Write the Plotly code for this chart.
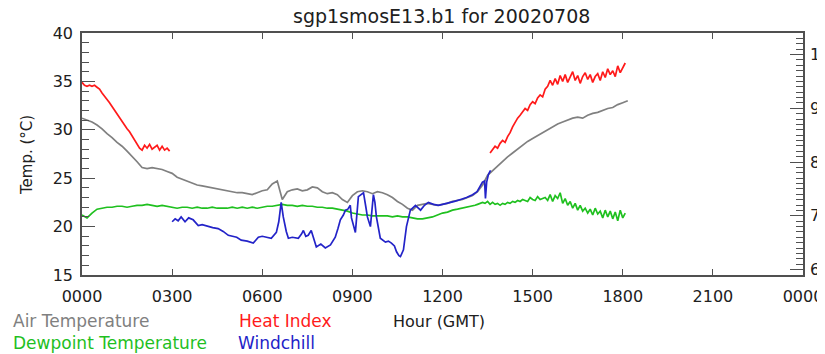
import plotly.graph_objects as go

# ---------------- data ----------------
chart_title = "sgp1smosE13.b1 for 20020708"
x_title = "Hour (GMT)"
y_title = "Temp. (°C)"
x_tick_vals = [0, 3, 6, 9, 12, 15, 18, 21, 24]
x_tick_text = ["0000", "0300", "0600", "0900", "1200", "1500", "1800", "2100", "0000"]
y_tick_vals = [15, 20, 25, 30, 35, 40]
f_tick_vals = [60, 70, 80, 90, 100]

# Air temperature (°C), every 10 minutes from 0000
air_temp = [
    31.2, 31.0, 30.8, 30.5, 30.1, 29.6,
    29.2, 28.7, 28.3, 27.8, 27.3, 26.7,
    26.1, 26.0, 26.1, 26.0, 25.9, 25.7,
    25.5, 25.1, 24.9, 24.7, 24.5, 24.3,
    24.2, 24.1, 24.0, 23.9, 23.8, 23.7,
    23.6, 23.5, 23.5, 23.4, 23.3, 23.5,
    23.7, 23.8, 24.4, 24.7, 22.8, 23.6,
    23.8, 23.9, 23.7, 23.8, 24.1, 24.0,
    23.6, 23.4, 23.5, 23.3, 22.8, 22.5,
    23.2, 23.6, 23.7, 23.6, 23.4, 23.6,
    23.5, 23.3, 23.0, 22.6, 22.3, 21.9,
    21.7, 22.2, 22.3, 22.4, 22.3, 22.2,
    22.3, 22.4, 22.6, 22.7, 22.8, 23.0,
    23.2, 23.6, 24.3, 25.3, 25.8, 26.3,
    26.8, 27.2, 27.6, 28.0, 28.4, 28.8,
    29.1, 29.4, 29.7, 30.0, 30.3, 30.6,
    30.8, 31.0, 31.2, 31.3, 31.2, 31.5,
    31.7, 31.8, 32.0, 32.2, 32.3, 32.6,
    32.8, 33.0,
]
air_step_h = 1 / 6

# Heat index (°C), every 5 minutes, two segments
heat_a_start_h = 0.0
heat_a = [
    34.9, 34.6, 34.5, 34.6, 34.5, 34.6, 34.4, 34.2, 33.8, 33.5, 33.1, 32.8,
    32.4, 32.0, 31.6, 31.3, 30.9, 30.5, 30.1, 29.8, 29.4, 29.0, 28.6, 28.1,
    27.9, 28.4, 28.1, 28.5, 28.0, 28.2, 28.4, 27.9, 28.3, 27.9, 28.1, 27.8,
]
heat_b_start_h = 13 + 7 / 12
heat_b = [
    27.6, 28.0, 28.3, 28.1, 28.6,
    28.9, 28.7, 29.3, 29.7, 30.3, 30.8, 31.2, 31.5, 31.9, 32.2, 32.0, 32.6,
    32.9, 32.7, 33.3, 33.6, 33.4, 34.2, 34.5, 35.1, 34.6, 35.3, 34.7, 35.6,
    35.0, 35.7, 34.9, 35.4, 36.0, 35.1, 35.6, 34.8, 35.5, 35.9, 35.2, 35.7,
    34.9, 35.5, 35.8, 35.1, 36.0, 35.4, 36.3, 35.7, 36.1, 35.5, 36.6, 35.9,
    36.4, 36.9,
]
heat_step_h = 1 / 12

# Dewpoint temperature (°C): 10-minute values to 1250, then 5-minute values
dew_a = [
    21.2, 20.9, 21.4, 21.8, 21.9, 22.0,
    22.0, 22.1, 22.1, 22.0, 22.1, 22.2,
    22.2, 22.3, 22.2, 22.1, 22.2, 22.1,
    22.0, 21.9, 22.0, 22.0, 21.9, 22.0,
    21.9, 21.9, 22.0, 21.9, 21.9, 21.9,
    22.0, 21.9, 22.0, 21.9, 22.0, 21.9,
    22.0, 22.1, 22.1, 22.2, 22.3, 22.2,
    22.2, 22.1, 22.2, 22.1, 22.1, 22.0,
    22.0, 21.9, 21.9, 21.8, 21.7, 21.6,
    21.4, 21.3, 21.2, 21.2, 21.1, 21.1,
    21.1, 21.1, 21.0, 21.1, 21.0, 21.0,
    20.9, 20.8, 20.8, 20.9, 21.0, 21.2,
    21.4, 21.5, 21.7, 21.8, 21.9, 22.0,
]
dew_a_step_h = 1 / 6
dew_b_start_h = 13.0
dew_b = [
    22.1, 22.2, 22.3, 22.4, 22.5, 22.4, 22.6, 22.3, 22.5, 22.3, 22.4, 22.2,
    22.4, 22.3, 22.5, 22.4, 22.6, 22.5, 22.7, 22.6, 22.8, 22.7, 22.6, 23.0,
    22.8, 22.7, 23.1, 22.8, 22.9, 23.0, 22.7, 23.3, 22.6, 23.2, 22.9, 23.5,
    22.4, 22.9, 22.2, 22.6, 21.9, 22.4, 21.7, 22.2, 21.6, 21.9, 21.4, 21.8,
    21.2, 21.9, 21.3, 21.6, 20.9, 21.7, 21.0, 21.6, 20.8, 21.5, 20.6, 21.7,
    20.9, 21.4,
]
dew_b_step_h = 1 / 12

# Windchill (°C) at irregular hours
wind_hours = [
    3.00, 3.10, 3.20, 3.30, 3.43, 3.55, 3.70, 3.87, 4.00, 4.20, 4.35, 4.53,
    4.70, 4.87, 5.00, 5.15, 5.30, 5.50, 5.70, 5.80, 5.87, 6.00, 6.20, 6.30,
    6.47, 6.55, 6.63, 6.70, 6.80, 6.87, 7.00, 7.20, 7.30, 7.37, 7.45, 7.53,
    7.63, 7.70, 7.80, 7.95, 8.10, 8.27, 8.43, 8.52, 8.60, 8.70, 8.77, 8.85,
    8.93, 8.97, 9.05, 9.10, 9.20, 9.30, 9.37, 9.45, 9.50, 9.60, 9.70, 9.75,
    9.80, 9.93, 10.10, 10.20, 10.30, 10.40, 10.47, 10.55, 10.60, 10.70, 10.80, 10.93,
    11.10, 11.27, 11.40, 11.53, 11.70, 11.87, 12.00, 12.20, 12.40, 12.60, 12.80, 13.00,
    13.15, 13.33, 13.40, 13.43, 13.47, 13.53, 13.60,
]
wind_c = [
    20.5, 20.8, 20.6, 21.0, 20.5, 20.9, 20.7, 20.1, 20.2, 20.0, 19.9, 19.8,
    19.5, 19.1, 19.0, 18.9, 18.6, 18.5, 18.3, 18.6, 18.9, 19.0, 18.9, 18.8,
    19.4, 20.5, 22.5, 21.0, 19.5, 18.8, 18.9, 18.8, 19.2, 19.6, 19.0, 19.1,
    19.6, 18.9, 17.9, 18.2, 17.8, 18.1, 18.9, 19.8, 20.7, 21.2, 21.7, 21.8,
    22.2, 20.9, 19.8, 19.4, 23.1, 23.3, 23.5, 22.0, 21.0, 20.0, 23.3, 22.5,
    21.0, 18.8, 18.4, 18.5, 18.3, 18.0, 17.4, 17.0, 16.9, 17.6, 20.0, 21.7,
    22.2, 21.7, 22.2, 22.5, 22.3, 22.2, 22.3, 22.4, 22.6, 22.8, 23.0, 23.3,
    23.6, 24.6, 24.7, 22.9, 24.6, 25.4, 25.8,
]

# ---------------- derived x values ----------------
air_hours = [i * air_step_h for i in range(len(air_temp))]
heat_hours = ([heat_a_start_h + i * heat_step_h for i in range(len(heat_a))] + [None]
              + [heat_b_start_h + i * heat_step_h for i in range(len(heat_b))])
heat_vals = heat_a + [None] + heat_b
dew_hours = ([i * dew_a_step_h for i in range(len(dew_a))]
             + [dew_b_start_h + i * dew_b_step_h for i in range(len(dew_b))])
dew_vals = dew_a + dew_b

# ---------------- styling ----------------
FONT = "DejaVu Sans"
C_AIR = "#808080"
C_HEAT = "#ff1a1a"
C_DEW = "#1fc01f"
C_WIND = "#2323c8"
AX = "#505050"

OFF = 8  # page body margin in the browser
W, H = 825 - OFF, 354 - OFF
# plot-area box as seen in the window, converted to figure pixels
L, R, T, B = 82 - OFF, 803 - OFF, 33 - OFF, 275 - OFF


def px(x):
    return (x - OFF - L) / (R - L)


def py(y):
    return (B - (y - OFF)) / (B - T)


fig = go.Figure()
lw = 1.7
fig.add_trace(go.Scatter(x=air_hours, y=air_temp, mode="lines",
                         line=dict(color=C_AIR, width=lw), hoverinfo="skip"))
fig.add_trace(go.Scatter(x=dew_hours, y=dew_vals, mode="lines",
                         line=dict(color=C_DEW, width=lw), hoverinfo="skip"))
fig.add_trace(go.Scatter(x=heat_hours, y=heat_vals, mode="lines", connectgaps=False,
                         line=dict(color=C_HEAT, width=lw), hoverinfo="skip"))
fig.add_trace(go.Scatter(x=wind_hours, y=wind_c, mode="lines",
                         line=dict(color=C_WIND, width=lw), hoverinfo="skip"))
# same air temperature in °F on the right axis (invisible, keeps axis alive)
fig.add_trace(go.Scatter(x=air_hours, y=[t * 9 / 5 + 32 for t in air_temp], yaxis="y2",
                         mode="lines", line=dict(color="rgba(0,0,0,0)", width=0),
                         hoverinfo="skip"))

tick_font = dict(family=FONT, size=16, color="#202020")

fig.update_layout(
    width=W, height=H,
    margin=dict(l=L, r=W - R, t=T, b=H - B, pad=0, autoexpand=False),
    paper_bgcolor="white", plot_bgcolor="white",
    showlegend=False,
    xaxis=dict(
        range=[0, 24], tickvals=x_tick_vals, ticktext=x_tick_text,
        ticks="inside", ticklen=6, tickwidth=1.2, tickcolor=AX,
        showline=True, linecolor=AX, linewidth=1.6, mirror="ticks",
        showgrid=False, zeroline=False, tickfont=tick_font,
        ticklabelstandoff=6, automargin=False,
    ),
    yaxis=dict(
        range=[15, 40], tickvals=y_tick_vals,
        ticks="inside", ticklen=13, tickwidth=1.2, tickcolor=AX,
        minor=dict(dtick=1, ticks="inside", ticklen=7, tickcolor=AX, tickwidth=1, showgrid=False),
        showline=True, linecolor=AX, linewidth=1.6,
        showgrid=False, zeroline=False, tickfont=tick_font,
        ticklabelstandoff=4, automargin=False,
    ),
    yaxis2=dict(
        overlaying="y", side="right", anchor="x",
        range=[15 * 9 / 5 + 32, 40 * 9 / 5 + 32], tickvals=f_tick_vals,
        ticks="inside", ticklen=13, tickwidth=1.2, tickcolor=AX,
        minor=dict(dtick=1, ticks="inside", ticklen=7, tickcolor=AX, tickwidth=1, showgrid=False),
        showline=True, linecolor=AX, linewidth=1.6,
        showgrid=False, zeroline=False, tickfont=tick_font,
        ticklabelstandoff=2, automargin=False,
    ),
)

ann = []
ann.append(dict(text=chart_title, x=px(441), y=py(16), xref="paper", yref="paper",
                xanchor="center", yanchor="middle", showarrow=False,
                font=dict(family=FONT, size=19, color="#202020")))
ann.append(dict(text=x_title, x=px(391), y=py(321), xref="paper", yref="paper",
                xanchor="left", yanchor="middle", showarrow=False,
                font=dict(family=FONT, size=16, color="#202020")))
ann.append(dict(text=y_title, x=px(27), y=py(155), xref="paper", yref="paper",
                xanchor="center", yanchor="middle", textangle=-90, showarrow=False,
                font=dict(family=FONT, size=15, color="#202020")))
legend_items = [
    ("Air Temperature", C_AIR, 11, 321),
    ("Heat Index", C_HEAT, 237, 321),
    ("Dewpoint Temperature", C_DEW, 11, 343),
    ("Windchill", C_WIND, 236, 343),
]
for txt, col, lx, ly in legend_items:
    ann.append(dict(text=txt, x=px(lx), y=py(ly), xref="paper", yref="paper",
                    xanchor="left", yanchor="middle", showarrow=False,
                    font=dict(family=FONT, size=17, color=col)))
fig.update_layout(annotations=ann)

fig.write_html("out.html")
